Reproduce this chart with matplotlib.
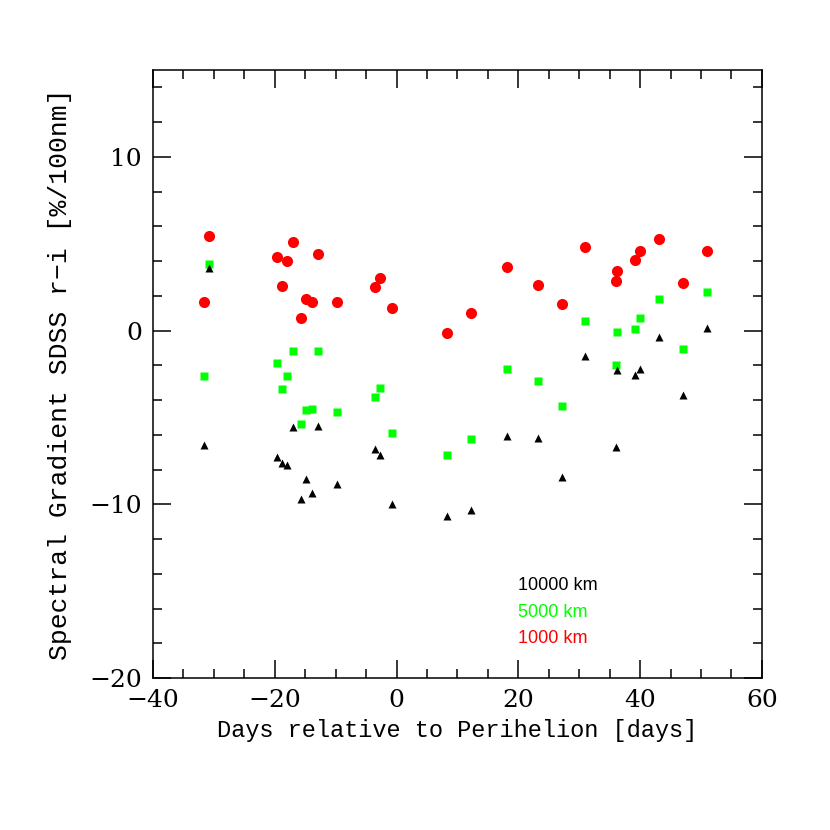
import matplotlib
matplotlib.use("Agg")
import matplotlib.pyplot as plt
from matplotlib.ticker import MultipleLocator

# days relative to perihelion
days = [-31.67, -30.8, -19.64, -18.82, -18.0, -16.96, -15.7, -14.88, -13.9,
        -12.96, -9.74, -3.6, -2.73, -0.7, 8.33, 12.17, 18.18, 23.17, 27.16,
        30.99, 36.1, 36.14, 39.2, 40.0, 43.1, 47.0, 51.0]

# spectral gradient [%/100nm] per aperture
grad_1000 = [1.67, 5.43, 4.24, 2.57, 4.0, 5.07, 0.73, 1.82, 1.67, 4.43, 1.67,
             2.49, 3.05, 1.29, -0.13, 1.0, 3.66, 2.63, 1.53, 4.79, 2.84, 3.45,
             4.06, 4.56, 5.27, 2.76, 4.56]
grad_5000 = [-2.62, 3.82, -1.87, -3.39, -2.62, -1.17, -5.36, -4.58, -4.5,
             -1.17, -4.71, -3.83, -3.33, -5.92, -7.14, -6.24, -2.22, -2.91,
             -4.35, 0.54, -2.01, -0.06, 0.08, 0.73, 1.80, -1.05, 2.22]
grad_10000 = [-6.61, 3.59, -7.26, -7.62, -7.74, -5.55, -9.69, -8.56, -9.35,
              -5.52, -8.83, -6.84, -7.14, -9.98, -10.69, -10.30, -6.05, -6.18,
              -8.43, -1.49, -6.72, -2.28, -2.53, -2.20, -0.38, -3.71, 0.14]

labels = ["10000 km", "5000 km", "1000 km"]
colors = ["black", "#00ff00", "red"]

fig = plt.figure(figsize=(8.3, 8.3), dpi=100)
ax = fig.add_axes([0.1843, 0.1831, 0.7337, 0.7326])

ax.plot(days, grad_1000, "o", color="red", ms=8, mec="none")
ax.plot(days, grad_5000, "s", color="#00ff00", ms=5.5, mec="none")
ax.plot(days, grad_10000, "^", color="black", ms=6.3, mec="none")

ax.set_xlim(-40, 60)
ax.set_ylim(-20, 15)
ax.xaxis.set_major_locator(MultipleLocator(20))
ax.xaxis.set_minor_locator(MultipleLocator(5))
ax.yaxis.set_major_locator(MultipleLocator(10))
ax.yaxis.set_minor_locator(MultipleLocator(2))
ax.tick_params(which="both", direction="in", top=True, right=True, width=1.1)
ax.tick_params(which="major", length=13, pad=8)
ax.tick_params(which="minor", length=6.5)
for s in ax.spines.values():
    s.set_linewidth(1.1)

serif = "DejaVu Serif"
mono = "Liberation Mono"
ax.set_xticklabels([("\u2212" if v < 0 else "") + str(abs(int(v))) for v in ax.get_xticks()])
ax.set_yticklabels([("\u2212" if v < 0 else "") + str(abs(int(v))) for v in ax.get_yticks()])
for t in ax.get_xticklabels() + ax.get_yticklabels():
    t.set_fontfamily(serif)
    t.set_fontsize(18)
ax.set_xlabel("Days relative to Perihelion [days]", family=mono, fontsize=17, labelpad=5)
ax.set_ylabel("Spectral Gradient SDSS r\u2212i [%/100nm]", family=mono, fontsize=19, labelpad=12)

for i, (lab, c) in enumerate(zip(labels, colors)):
    ax.text(20, -14.7 - 1.5 * i, lab, color=c, family="Liberation Sans",
            fontsize=13, va="center", ha="left")

fig.savefig("out.png", dpi=100)
